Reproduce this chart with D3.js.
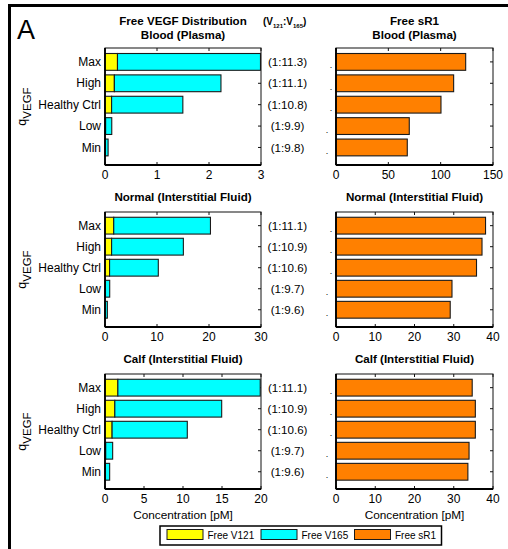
<!DOCTYPE html>
<html><head><meta charset="utf-8">
<script src="https://cdn.jsdelivr.net/npm/d3@7"></script>
<style>body{margin:0;background:#fff;} text{font-family:"Liberation Sans",Arial,sans-serif;}</style>
</head><body><div id="chart"></div>
<script>
const categories = ["Max","High","Healthy Ctrl","Low","Min"];
// Blood (plasma)
const bloodV121 = [0.24, 0.18, 0.127, 0.012, 0.0055];
const bloodV165 = [2.75, 2.05, 1.37, 0.118, 0.054];
const bloodSR1  = [123.9, 112.4, 100.3, 70.0, 68.1];
const bloodRatio = ["(1:11.3)","(1:11.1)","(1:10.8)","(1:9.9)","(1:9.8)"];
// Normal (interstitial fluid)
const normalV121 = [1.68, 1.27, 0.88, 0.084, 0.042];
const normalV165 = [18.6, 13.8, 9.37, 0.82, 0.41];
const normalSR1  = [38.1, 37.2, 35.8, 29.55, 29.1];
const normalRatio = ["(1:11.1)","(1:10.9)","(1:10.6)","(1:9.7)","(1:9.6)"];
// Calf (interstitial fluid)
const calfV121 = [1.65, 1.26, 0.91, 0.092, 0.057];
const calfV165 = [18.25, 13.7, 9.64, 0.89, 0.54];
const calfSR1  = [34.7, 35.5, 35.5, 33.9, 33.6];
const calfRatio = ["(1:11.1)","(1:10.9)","(1:10.6)","(1:9.7)","(1:9.6)"];
// tick labels
const ticksBloodVEGF = [0,1,2,3];
const ticksBloodSR1 = [0,50,100,150];
const ticksNormalVEGF = [0,10,20,30];
const ticksNormalSR1 = [0,10,20,30,40];
const ticksCalfVEGF = [0,5,10,15,20];
const ticksCalfSR1 = [0,10,20,30,40];
const legendLabels = ["Free V121","Free V165","Free sR1"];

const COL = {v121:"#ffff00", v165:"#00ffff", sr1:"#ff8000"};
const W = 508, H = 549;
const svg = d3.select("#chart").append("svg").attr("width",W).attr("height",H);

// outer frame (top and left visible)
svg.append("line").attr("x1",9.5).attr("x2",W).attr("y1",5.5).attr("y2",5.5).attr("stroke","#000").attr("stroke-width",3);
svg.append("line").attr("x1",9.5).attr("x2",9.5).attr("y1",4).attr("y2",H).attr("stroke","#000").attr("stroke-width",3);
svg.append("text").attr("x",17).attr("y",38.5).attr("font-size",27).text("A");

const rows = [
  {top:48, bottom:165, v121:bloodV121, v165:bloodV165, sr1:bloodSR1, ratio:bloodRatio,
   tL:ticksBloodVEGF, tR:ticksBloodSR1, titleL:["Free VEGF Distribution","Blood (Plasma)"], titleR:["Free sR1","Blood (Plasma)"], ty:[25,38.5]},
  {top:212, bottom:327, v121:normalV121, v165:normalV165, sr1:normalSR1, ratio:normalRatio,
   tL:ticksNormalVEGF, tR:ticksNormalSR1, titleL:["Normal (Interstitial Fluid)"], titleR:["Normal (Interstitial Fluid)"], ty:[201]},
  {top:374, bottom:489, v121:calfV121, v165:calfV165, sr1:calfSR1, ratio:calfRatio,
   tL:ticksCalfVEGF, tR:ticksCalfSR1, titleL:["Calf (Interstitial Fluid)"], titleR:["Calf (Interstitial Fluid)"], ty:[363]}
];
const LX = [105, 261], RX = [336, 493];

function panel(r, xr, ticks, stacks, isLeft, titles){
  const x = d3.scaleLinear().domain([ticks[0], ticks[ticks.length-1]]).range(xr);
  const y = d3.scaleLinear().domain([-0.65, 4.82]).range([r.top, r.bottom]);
  const bh = 16.8;
  const g = svg.append("g");
  // frame: top/right thin
  g.append("rect").attr("x",xr[0]).attr("y",r.top).attr("width",xr[1]-xr[0]).attr("height",r.bottom-r.top)
    .attr("fill","none").attr("stroke","#111").attr("stroke-width",1);
  // inward ticks
  ticks.forEach(t=>{
    g.append("line").attr("x1",x(t)).attr("x2",x(t)).attr("y1",r.top).attr("y2",r.top+3).attr("stroke","#111");
    g.append("line").attr("x1",x(t)).attr("x2",x(t)).attr("y1",r.bottom).attr("y2",r.bottom-3).attr("stroke","#111");
  });
  categories.forEach((c,i)=>{
    g.append("line").attr("x1",xr[1]).attr("x2",xr[1]-3).attr("y1",y(i)).attr("y2",y(i)).attr("stroke","#111");
  });
  // bars
  stacks.forEach(s=>{
    let acc = new Array(categories.length).fill(0);
    s.forEach(layer=>{
      g.selectAll(null).data(layer.vals).enter().append("rect")
        .attr("x",(d,i)=>x(acc[i]))
        .attr("y",(d,i)=>y(i)-bh/2)
        .attr("width",(d,i)=>Math.max(0.5, x(acc[i]+d)-x(acc[i])))
        .attr("height",bh)
        .attr("fill",layer.color).attr("stroke","#1a1a1a").attr("stroke-width",1.1);
      layer.vals.forEach((d,i)=>acc[i]+=d);
    });
  });
  // left & bottom axis lines thicker
  g.append("line").attr("x1",xr[0]).attr("x2",xr[0]).attr("y1",r.top).attr("y2",r.bottom).attr("stroke","#000").attr("stroke-width",1.8);
  g.append("line").attr("x1",xr[0]).attr("x2",xr[1]).attr("y1",r.bottom).attr("y2",r.bottom).attr("stroke","#000").attr("stroke-width",1.8);
  // x tick labels
  ticks.forEach(t=>{
    g.append("text").attr("x",x(t)).attr("y",r.bottom+14).attr("text-anchor","middle").attr("font-size",12).text(t);
  });
  // titles
  const cx = (xr[0]+xr[1])/2;
  titles.forEach((t,k)=>{
    g.append("text").attr("x",cx).attr("y",r.ty[k]).attr("text-anchor","middle").attr("font-size",11.6)
      .attr("font-weight","bold").text(t);
  });
  if(isLeft){
    categories.forEach((c,i)=>{
      g.append("text").attr("x",xr[0]-4).attr("y",y(i)).attr("dy","0.35em").attr("text-anchor","end").attr("font-size",12).text(c);
    });
    r.ratio.forEach((t,i)=>{
      g.append("text").attr("x",287.5).attr("y",y(i)).attr("dy","0.36em").attr("text-anchor","middle").attr("font-size",11.6).text(t);
    });
    categories.forEach((c,i)=>{
      g.append("text").attr("x", i<3?331:327).attr("y",y(i)+6.5).attr("text-anchor","middle").attr("font-size",9).text(".");
    });
    // y label q_VEGF
    const my = (r.top+r.bottom)/2;
    const yl = g.append("text").attr("transform",`translate(26,${my}) rotate(-90)`).attr("text-anchor","middle").attr("font-size",12.5);
    yl.append("tspan").text("q");
    yl.append("tspan").attr("dy",4.5).attr("font-size",11.5).text("VEGF");
  }
  return x;
}

rows.forEach(r=>{
  panel(r, LX, r.tL, [[{vals:r.v121,color:COL.v121},{vals:r.v165,color:COL.v165}]], true, r.titleL);
  panel(r, RX, r.tR, [[{vals:r.sr1,color:COL.sr1}]], false, r.titleR);
});

// header (V121:V165)
const hdr = svg.append("text").attr("x",263).attr("y",25).attr("font-size",10).attr("font-weight","bold");
hdr.append("tspan").text("(V");
hdr.append("tspan").attr("font-size",6).attr("dy",2.5).text("121");
hdr.append("tspan").attr("dy",-2.5).text(":V");
hdr.append("tspan").attr("font-size",6).attr("dy",2.5).text("165");
hdr.append("tspan").attr("dy",-2.5).text(")");

// x axis labels
svg.append("text").attr("x",183).attr("y",518.5).attr("text-anchor","middle").attr("font-size",11.8).text("Concentration [pM]");
svg.append("text").attr("x",414.5).attr("y",518.5).attr("text-anchor","middle").attr("font-size",11.8).text("Concentration [pM]");

// legend
const lg = svg.append("g");
lg.append("rect").attr("x",160).attr("y",526).attr("width",281.5).attr("height",19).attr("fill","#fff").attr("stroke","#000").attr("stroke-width",1.5);
const legCols = [COL.v121, COL.v165, COL.sr1];
const legX = [167, 261, 354.5];
legendLabels.forEach((l,i)=>{
  lg.append("rect").attr("x",legX[i]).attr("y",529.5).attr("width",36).attr("height",10).attr("fill",legCols[i]).attr("stroke","#1a1a1a").attr("stroke-width",1);
  lg.append("text").attr("x",legX[i]+40.5).attr("y",539).attr("font-size",10).text(l);
});
</script></body></html>
